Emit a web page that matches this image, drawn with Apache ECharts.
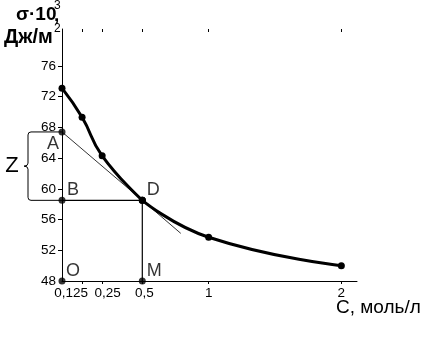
<!DOCTYPE html>
<html>
<head>
<meta charset="utf-8">
<script src="https://cdn.jsdelivr.net/npm/echarts@6/dist/echarts.min.js"></script>
<style>
  html, body { margin: 0; padding: 0; background: #fff; }
  #chart { width: 441px; height: 338px; }
</style>
</head>
<body>
<div id="chart"></div>
<script>
// Surface tension σ·10³ (J/m²) against concentration C (mol/l)
const concentration = [0, 0.125, 0.25, 0.5, 1, 2];
const tension = [73.1, 69.3, 64.3, 58.5, 53.7, 50.0];

const yTickValues = [48, 52, 56, 60, 64, 68, 72, 76];
const xTickValues = [0, 0.125, 0.25, 0.5, 1, 2];
const xTickLabels = ['0', '0,125', '0,25', '0,5', '1', '2'];

// Tangent to the curve at D: its intercept A on the σ axis and where the drawn segment stops
const tangentIntercept = 67.4;
const tangentEnd = [0.79, 54.2];

// The C axis is drawn with one scale up to 0.5 and a tighter one after it
const splitC = 0.5;

const FONT = '"Liberation Sans", Arial, sans-serif';
const INK = '#000';

const yMin = 48, yMax = 80.8;
const cMaxRight = 2.118;

const pointD = [splitC, tension[concentration.indexOf(splitC)]];
const pointA = [0, tangentIntercept];
const pointB = [0, pointD[1]];
const pointO = [0, yMin];
const pointM = [splitC, yMin];

const leftCurve = [], rightCurve = [];
concentration.forEach((c, i) => {
  if (c <= splitC) leftCurve.push([c, tension[i]]);
  if (c >= splitC) rightCurve.push([c, tension[i]]);
});

const labelOf = v => xTickLabels[xTickValues.indexOf(v)];

const tickLabelStyle = { fontFamily: FONT, fontSize: 13.5, color: INK };

function xAxisBase(gridIndex, min, max, ticks, inside) {
  return {
    type: 'value', gridIndex, min, max,
    axisLine: { show: !inside, lineStyle: { color: INK, width: 1 } },
    axisTick: { show: true, inside, length: 3, customValues: ticks, lineStyle: { color: INK } },
    axisLabel: { show: false },
    splitLine: { show: false }
  };
}

const leftTicks = xTickValues.filter(v => v > 0 && v <= splitC);
const rightTicks = xTickValues.filter(v => v > splitC);

const xAxes = [
  Object.assign(xAxisBase(0, 0, splitC, leftTicks, false), {
    axisLabel: {
      show: true, margin: 5,
      customValues: xTickValues.filter(v => v <= splitC),
      formatter: v => {
        const t = labelOf(v);
        if (v === 0) return '{o|' + t + '}';
        if (v === 0.125) return '{a|' + t + '}';
        if (v === 0.25) return '{b|' + t + '}';
        return '{c|' + t + '}';
      },
      rich: {
        o: Object.assign({}, tickLabelStyle, { fontWeight: 'bold', padding: [0, 16, 0, 0] }),
        a: Object.assign({}, tickLabelStyle, { padding: [0, 22, 0, 0] }),
        b: Object.assign({}, tickLabelStyle, { padding: [0, 0, 0, 11] }),
        c: Object.assign({}, tickLabelStyle, { padding: [0, 0, 0, 4] })
      }
    }
  }),
  Object.assign(xAxisBase(1, splitC, cMaxRight, rightTicks, false), {
    axisLabel: {
      show: true, margin: 5,
      customValues: rightTicks,
      formatter: v => labelOf(v),
      fontFamily: FONT, fontSize: 13.5, color: INK
    }
  }),
  xAxisBase(0, 0, splitC, leftTicks, true),
  xAxisBase(1, splitC, cMaxRight, rightTicks, true)
];

const yTicksShown = yTickValues.filter(v => v > yMin);

const yAxes = [
  {
    type: 'value', gridIndex: 0, min: yMin, max: yMax,
    axisLine: { show: true, lineStyle: { color: INK, width: 1 } },
    axisTick: { show: true, length: 4, customValues: yTicksShown, lineStyle: { color: INK } },
    axisLabel: {
      show: true, margin: 6, customValues: yTickValues,
      fontFamily: FONT, fontSize: 13.5, color: INK
    },
    splitLine: { show: false }
  },
  { type: 'value', gridIndex: 1, min: yMin, max: yMax, show: false },
  {
    type: 'value', gridIndex: 0, min: yMin, max: yMax,
    axisLine: { show: false },
    axisTick: { show: true, inside: true, length: 3, customValues: yTicksShown, lineStyle: { color: INK } },
    axisLabel: { show: false },
    splitLine: { show: false }
  }
];

function plainLine(data, xi, yi, width) {
  return {
    type: 'line', xAxisIndex: xi, yAxisIndex: yi, data,
    symbol: 'none', lineStyle: { color: INK, width }, silent: true, z: 2,
    animation: false
  };
}

const letterStyle = { fontFamily: FONT, fontSize: 18, color: INK };

function marker(name, value, offset) {
  return {
    name, value,
    label: Object.assign({ show: true, formatter: '{b}', position: 'inside', offset }, letterStyle)
  };
}

const option = {
  animation: false,
  backgroundColor: '#fff',
  grid: [
    { left: 62, top: 29, width: 80.3, height: 252, outerBoundsMode: 'none' },
    { left: 142.3, top: 29, width: 214.7, height: 252, outerBoundsMode: 'none' }
  ],
  xAxis: xAxes,
  yAxis: yAxes,
  series: [
    // tangent AD and its continuation
    plainLine([pointA, pointD], 0, 0, 0.8),
    plainLine([pointD, tangentEnd], 1, 1, 0.8),
    // construction lines BD and DM
    plainLine([pointB, pointD], 0, 0, 1.2),
    plainLine([pointD, pointM], 0, 0, 1.2),
    // measured curve
    {
      type: 'line', xAxisIndex: 0, yAxisIndex: 0, data: leftCurve, smooth: 0.5,
      symbol: 'circle', symbolSize: 7, showAllSymbol: true,
      itemStyle: { color: INK }, lineStyle: { color: INK, width: 3 }, z: 3
    },
    {
      type: 'line', xAxisIndex: 1, yAxisIndex: 1, data: rightCurve, smooth: 0.5,
      symbol: 'circle', symbolSize: 7, showAllSymbol: true,
      itemStyle: { color: INK }, lineStyle: { color: INK, width: 3 }, z: 3
    },
    // brace marking Z = A − B
    {
      type: 'custom', xAxisIndex: 0, yAxisIndex: 0, silent: true, z: 2,
      data: [[0, pointA[1], pointB[1]]],
      renderItem: (params, api) => {
        const top = api.coord([api.value(0), api.value(1)]);
        const bot = api.coord([api.value(0), api.value(2)]);
        const x0 = top[0] - 34;
        const r = 3;
        const mid = (top[1] + bot[1]) / 2;
        const path =
          'M' + top[0] + ' ' + top[1] +
          ' L' + (x0 + r) + ' ' + top[1] +
          ' Q' + x0 + ' ' + top[1] + ' ' + x0 + ' ' + (top[1] + r) +
          ' L' + x0 + ' ' + (mid - 3) +
          ' Q' + x0 + ' ' + mid + ' ' + (x0 - 4) + ' ' + mid +
          ' Q' + x0 + ' ' + mid + ' ' + x0 + ' ' + (mid + 3) +
          ' L' + x0 + ' ' + (bot[1] - r) +
          ' Q' + x0 + ' ' + bot[1] + ' ' + (x0 + r) + ' ' + bot[1] +
          ' L' + bot[0] + ' ' + bot[1];
        return {
          type: 'group',
          children: [
            { type: 'path', shape: { pathData: path }, style: { stroke: INK, lineWidth: 1, fill: null } },
            {
              type: 'text',
              style: {
                text: 'Z', x: x0 - 16, y: mid, align: 'center', verticalAlign: 'middle',
                font: '22px ' + FONT, fill: INK
              }
            }
          ]
        };
      }
    },
    // labelled points O, M, B, A, D
    {
      type: 'scatter', xAxisIndex: 0, yAxisIndex: 0, symbol: 'circle', symbolSize: 7,
      itemStyle: { color: INK }, z: 4,
      data: [
        marker('O', pointO, [11, -10]),
        marker('M', pointM, [12, -10]),
        marker('B', pointB, [11, -10]),
        marker('A', pointA, [-9, 12]),
        marker('D', pointD, [11, -10])
      ]
    }
  ],
  graphic: [
    { type: 'text', left: 16, top: 5, style: { text: 'σ·10', font: 'bold 19px ' + FONT, fill: INK } },
    { type: 'text', left: 54, top: 0, style: { text: '3', font: '12px ' + FONT, fill: INK } },
    { type: 'text', left: 54, top: 6, style: { text: ',', font: 'bold 19px ' + FONT, fill: INK } },
    { type: 'text', left: 4, top: 27, style: { text: 'Дж/м', font: 'bold 20px ' + FONT, fill: INK } },
    { type: 'text', left: 54, top: 23, style: { text: '2', font: '12px ' + FONT, fill: INK } },
    { type: 'text', left: 336, top: 298, style: { text: 'C, моль/л', font: '19px ' + FONT, fill: INK } }
  ]
};

const chart = echarts.init(document.getElementById('chart'), null, { renderer: 'canvas' });
chart.setOption(option);
</script>
</body>
</html>
